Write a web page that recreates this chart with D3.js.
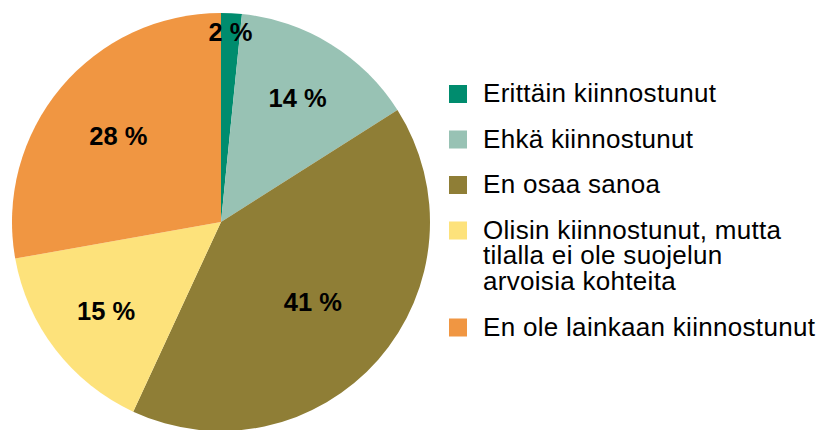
<!DOCTYPE html>
<html>
<head>
<meta charset="utf-8">
<script src="https://cdn.jsdelivr.net/npm/d3@7"></script>
<style>
  body { margin: 0; background: #fff; }
  svg { display: block; }
</style>
</head>
<body>
<script>
// categories, values (%) and colours
var categories = [
    "Erittäin kiinnostunut",
    "Ehkä kiinnostunut",
    "En osaa sanoa",
    "Olisin kiinnostunut, mutta tilalla ei ole suojelun arvoisia kohteita",
    "En ole lainkaan kiinnostunut"
];
var values = [1.6, 14.4, 40.9, 15.3, 27.8];
var colors = ["#008c6e", "#98c2b4", "#8f7e36", "#fde27b", "#f09642"];
// legend text broken into lines as in the original
var legendLines = [
    ["Erittäin kiinnostunut"],
    ["Ehkä kiinnostunut"],
    ["En osaa sanoa"],
    ["Olisin kiinnostunut, mutta", "tilalla ei ole suojelun", "arvoisia kohteita"],
    ["En ole lainkaan kiinnostunut"]
];

var width = 818, height = 430;
var cx = 221, cy = 222, radius = 209;

var svg = d3.select("body")
    .append("svg")
    .attr("width", width)
    .attr("height", height);

var data = categories.map(function(c, i) {
    return {name: c, value: values[i], color: colors[i]};
});

var pie = d3.pie()
    .sort(null)
    .value(function(d) { return d.value; });

var arc = d3.arc()
    .innerRadius(0)
    .outerRadius(radius);

var total = d3.sum(values);

// bigger slices get their label a bit closer to the centre,
// tiny ones go out near the rim
function labelRadius(d) {
    var f = d.data.value / total;
    if (f < 0.05) return radius * 0.91;
    return radius * (0.76 - 0.43 * f);
}

var g = svg.append("g")
    .attr("transform", "translate(" + cx + "," + cy + ")");

var arcs = pie(data);

g.selectAll(".slice")
    .data(arcs)
    .enter()
    .append("path")
    .attr("class", "slice")
    .attr("d", arc)
    .style("fill", function(d) { return d.data.color; });

// labels drawn after all slices so none gets covered
g.selectAll(".label")
    .data(arcs)
    .enter()
    .append("text")
    .attr("class", "label")
    .attr("transform", function(d) {
        var r = labelRadius(d);
        var a = d3.arc().innerRadius(r).outerRadius(r);
        return "translate(" + a.centroid(d) + ")";
    })
    .attr("dy", "0.35em")
    .style("text-anchor", "middle")
    .attr("font-family", "Liberation Sans, Arial, sans-serif")
    .attr("font-weight", "bold")
    .attr("font-size", 25.5)
    .attr("fill", "#000")
    .text(function(d) { return d3.format(".0f")(d.data.value) + " %"; });

// legend
var lineH = 25.75, gap = 19.75, box = 18;
var legend = svg.append("g")
    .attr("transform", "translate(449,85)");

var y = 0;
legendLines.forEach(function(lines, i) {
    var item = legend.append("g")
        .attr("transform", "translate(0," + y + ")");
    item.append("rect")
        .attr("width", box)
        .attr("height", box)
        .style("fill", colors[i]);
    var t = item.append("text")
        .attr("font-family", "Liberation Sans, Arial, sans-serif")
        .attr("font-size", 26)
        .attr("letter-spacing", 0.3)
        .attr("fill", "#000");
    lines.forEach(function(l, j) {
        t.append("tspan")
            .attr("x", 34)
            .attr("y", 17 + j * lineH)
            .text(l);
    });
    y += lines.length * lineH + gap;
});
</script>
</body>
</html>
